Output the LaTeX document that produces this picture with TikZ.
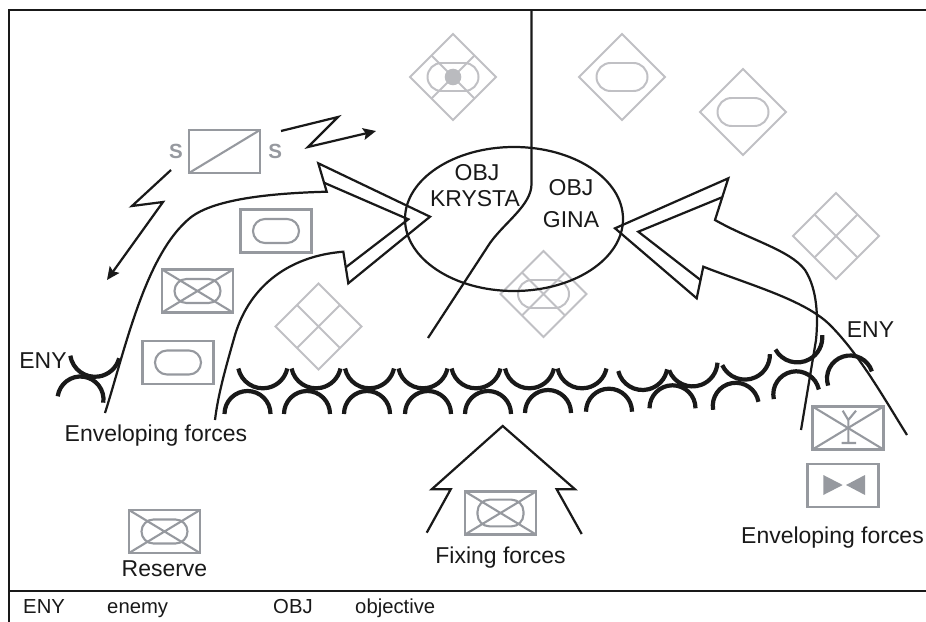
\documentclass[tikz,border=0pt]{standalone}
\usepackage{fontspec}
\setmainfont{Liberation Sans}
\usetikzlibrary{arrows.meta,positioning,shapes.geometric,calc}

\definecolor{linecol}{RGB}{25,25,25}
\definecolor{friendcol}{RGB}{150,153,159}
\definecolor{hostcol}{RGB}{192,192,196}
\definecolor{dotcol}{RGB}{186,187,191}

\begin{document}
\begin{tikzpicture}[x=0.03cm, y=-0.03cm, line join=miter,
    outline/.style={draw=linecol, line width=1.9pt},
    unitbox/.style={draw=friendcol, line width=1.8pt, minimum width=2.13cm, minimum height=1.29cm, inner sep=0pt, outer sep=0pt},
    armor/.style={draw=friendcol, line width=1.8pt, minimum width=1.38cm, minimum height=0.72cm, rounded corners=0.36cm, inner sep=0pt},
    hostile/.style={diamond, draw=hostcol, line width=1.7pt, minimum width=2.58cm, minimum height=2.58cm, inner sep=0pt, outer sep=0pt},
    hostarmor/.style={armor, draw=hostcol, line width=1.7pt, minimum width=1.53cm, minimum height=0.84cm, rounded corners=0.42cm},
    eny/.style={draw=linecol, line width=3.6pt},
    lbl/.style={text=linecol, font=\fontsize{19.6}{22}\selectfont, inner sep=0pt},
    legend/.style={text=linecol, font=\fontsize{17.3}{20}\selectfont, inner sep=0pt, anchor=base west},
    sig/.style={text=friendcol, font=\fontsize{17.5}{20}\selectfont\bfseries, inner sep=0pt}]

  \useasboundingbox (0,0) rectangle (926,622);

  % frame and legend line
  \draw[outline] (9,622) -- (9,10) -- (926,10);
  \draw[outline] (9,591) -- (926,591);

  % hostile units
  \node[hostile] (hq) at (453,77) {};
  \node[hostarmor] at (hq) {};
  \node[hostile] (ht1) at (622,77) {};
  \node[hostarmor] at (ht1) {};
  \node[hostile] (ht2) at (743,112) {};
  \node[hostarmor] at (ht2) {};
  \node[hostile] (hx1) at (836,236) {};
  \node[hostile] (hx2) at (318.5,326.5) {};
  \node[hostile] (hm) at (543.5,294) {};
  \node[hostarmor] at (hm) {};
  \foreach \d in {hq,hx1,hx2,hm}
    \draw[hostcol, line width=1.7pt] ($(\d.north)!.5!(\d.west)$) -- ($(\d.south)!.5!(\d.east)$)
      ($(\d.north)!.5!(\d.east)$) -- ($(\d.south)!.5!(\d.west)$);
  \fill[dotcol] (hq) circle [radius=8.3];

  % objectives
  \node[ellipse, outline, minimum width=6.54cm, minimum height=4.32cm] (obj) at (514,219) {};
  \draw[outline] (531.5,10) -- (531.5,184) .. controls (531.5,205) and (505,222) .. (490,243) -- (428,338);
  \node[lbl, anchor=base] (krysta1) at (477,180.7) {OBJ};
  \node[lbl, anchor=base] (krysta2) at (475,206) {KRYSTA};
  \node[lbl, anchor=base] (gina1) at (571,195.7) {OBJ};
  \node[lbl, anchor=base] (gina2) at (571,227.3) {GINA};

  % friendly units
  \node[unitbox] (sbox) at (224.5,151.5) {};
  \draw[friendcol, line width=1.8pt] (sbox.south west) -- (sbox.north east);
  \node[sig, left=5pt of sbox] (sleft) {S};
  \node[sig, right=7pt of sbox] (sright) {S};
  \node[unitbox] (tk1) at (276,231) {};
  \node[armor] at (tk1) {};
  \node[unitbox] (mech1) at (197.5,291) {};
  \node[armor] at (mech1) {};
  \node[unitbox] (tk2) at (178,362.5) {};
  \node[armor] at (tk2) {};
  \node[unitbox] (reserve) at (164.5,531.5) {};
  \node[armor] at (reserve) {};
  \node[unitbox] (fixing) at (500.5,513) {};
  \node[armor, minimum height=0.8cm] at (fixing) {};
  \node[unitbox] (recon) at (848,428) {};
  \node[unitbox] (antitank) at (843,485.7) {};
  \foreach \u in {mech1,reserve,fixing,recon}
    \draw[friendcol, line width=1.8pt] (\u.north west) -- (\u.south east) (\u.north east) -- (\u.south west);
  \draw[friendcol, line width=1.8pt] (842.7,410.7) -- (848.3,420) -- (856,410.7)
    (848.3,420) -- (848.3,443) (841.7,443) -- (856,443);
  \fill[friendcol] (823.3,475) -- (823.3,495) -- (842.7,485) -- cycle
    (865,475) -- (865,495) -- (846,485) -- cycle;

  % radio links
  \coordinate (radio1) at (281,131);
  \coordinate (radio1end) at (376,131);
  \coordinate (radio2) at (171,170);
  \coordinate (radio2end) at (107,280);
  \draw[outline, -{Stealth[length=11pt,width=10pt,inset=2pt]}] (radio1) -- (338,117) -- (308,147) -- (radio1end);
  \draw[outline, -{Stealth[length=11pt,width=10pt,inset=2pt]}] (radio2) -- (132,206) -- (163,202) -- (radio2end);

  % enemy line
  \foreach \cx/\cy/\r in {262.8/363.3/0, 316/363.3/0, 369.5/363.3/0, 423/363.3/0, 476/363.3/0,
      529.5/363.3/0, 582/363.3/0, 642.5/365/2, 692.5/361.4/9, 744.9/354.6/13, 797.3/337.4/17, 95/351.8/-3}
    \draw[eny, shift={(\cx,\cy)}, rotate=\r] (168:25) arc[start angle=168, end angle=12, radius=25];
  \foreach \cx/\cy/\r in {247.5/414/0, 307/414/0, 367/414/0, 428/414/0, 488/414/0, 548/413/0,
      609/411.7/0, 672.5/408.3/0, 735.8/405.8/10, 796.3/394.3/12, 850/378.5/18, 80.5/399.5/-8}
    \draw[eny, shift={(\cx,\cy)}, rotate=\r] (180:23) arc[start angle=180, end angle=360, radius=23];

  % enveloping attack, west
  \draw[outline] (105,413) .. controls (125,350) and (145,255) .. (190,218)
    .. controls (215,197.5) and (280,193) .. (326.7,191.7) -- (318.3,163.3) -- (430,216.7)
    -- (348.3,283.3) -- (343.3,251.7) .. controls (290,256) and (250,285) .. (235,335)
    .. controls (225,370) and (218,395) .. (215,420);
  \draw[outline] (324,182.7) -- (408.3,219.3) -- (345.8,267.3);

  % enveloping attack, east
  \draw[outline] (801,430) -- (816,340) .. controls (818,320) and (818,290) .. (805,270)
    .. controls (790,250) and (750,240) .. (715,220) -- (728.3,178.3) -- (615,228.3)
    -- (696.7,298.3) -- (703.3,266.7) .. controls (750,285) and (805,300) .. (830,325)
    .. controls (860,355) and (885,400) .. (907,435);
  \draw[outline] (722,197.3) -- (638.3,231.7) -- (700.5,280);

  % fixing attack
  \draw[outline] (426.7,532.7) -- (450.7,489.3) -- (431.7,489.3) -- (502.7,426)
    -- (575,489.3) -- (556.7,489.3) -- (581.7,534);

  % labels
  \node[lbl, anchor=base] (enywest) at (43,368.3) {ENY};
  \node[lbl, anchor=base] (enyeast) at (870.5,337) {ENY};
  \node[lbl, anchor=base] (envwest) at (156,441.7) {Enveloping forces};
  \node[lbl, below=6pt of reserve] (reslbl) {Reserve};
  \node[lbl, below=10pt of fixing] (fixlbl) {Fixing forces};
  \node[lbl, anchor=base west] (enveast) at (741,543.3) {Enveloping forces};

  % legend
  \node[legend] (leg1) at (23,613.3) {ENY};
  \node[legend] (leg2) at (107,613.3) {enemy};
  \node[legend] (leg3) at (273,613.3) {OBJ};
  \node[legend] (leg4) at (355,613.3) {objective};
\end{tikzpicture}
\end{document}
